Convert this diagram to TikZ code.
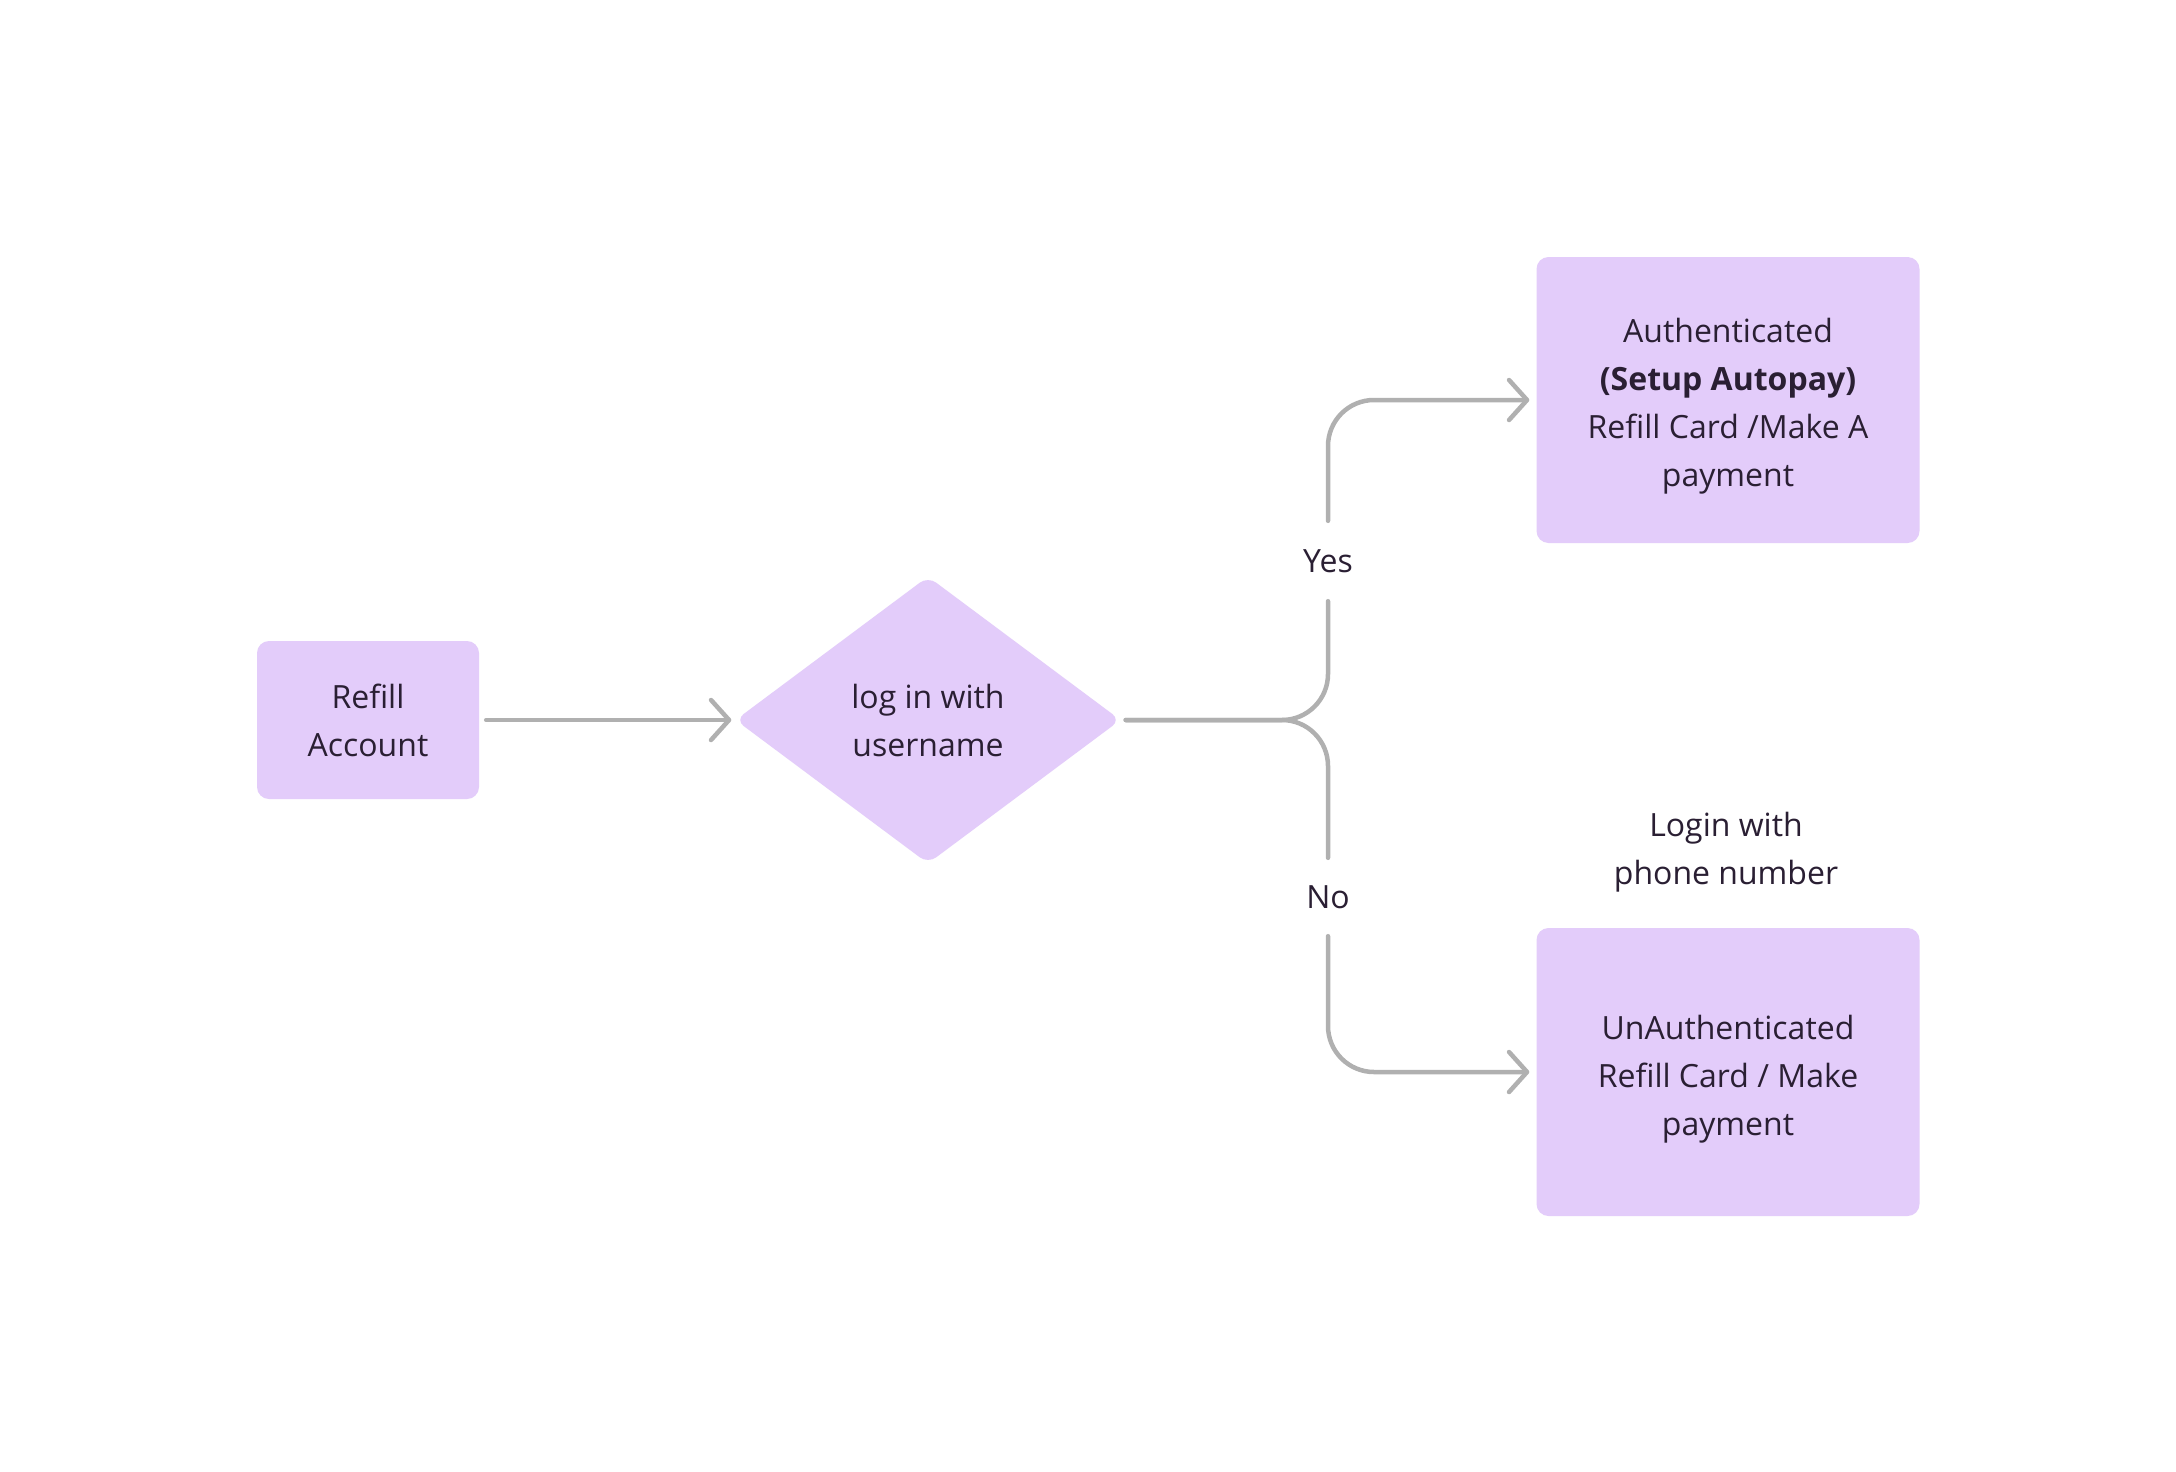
\documentclass[tikz,border=0pt]{standalone}
\usepackage{fontspec}
\setmainfont{Open Sans}
\usetikzlibrary{shapes.geometric,arrows.meta}
\definecolor{boxfill}{HTML}{E3CCFA}
\definecolor{linegray}{HTML}{B0B0B0}
\definecolor{txt}{HTML}{2A1F33}
\begin{document}
\begin{tikzpicture}[x=1pt,y=-1pt,
  every node/.style={font=\fontsize{32}{48}\selectfont, text=txt, align=center},
  boxnode/.style={rectangle, fill=boxfill, rounded corners=12pt, inner sep=0pt},
  decision/.style={diamond, fill=boxfill, rounded corners=10pt, inner sep=0pt, minimum width=385pt, minimum height=287pt},
  lbl/.style={inner sep=0pt, minimum width=60pt},
  conn/.style={draw=linegray, line width=4.5pt, line cap=round, line join=round,
    -{Straight Barb[length=18pt,width=40pt,round]}},
  branch/.style={draw=linegray, line width=4.5pt, line cap=round, line join=round, rounded corners=46pt}
]
\useasboundingbox (0,0) rectangle (2176,1472);
\fill[white] (0,0) rectangle (2176,1472);

\node[boxnode, minimum width=222pt, minimum height=158pt] (refill) at (368,720) {Refill\\Account};
\node[decision] (dia) at (928,720) {log in with\\ username};
\node[boxnode, minimum width=383pt, minimum height=286pt] (top) at (1728,400) {};
\node[yshift=-6pt] (toptext) at (top.center)
  {Authenticated\\ \textbf{(Setup Autopay)}\\ Refill Card /Make A\\ payment};
\node[boxnode, minimum width=383pt, minimum height=288pt] (bot) at (1728,1072) {};
\node[yshift=-7pt] (bottext) at (bot.center)
  {UnAuthenticated\\ Refill Card / Make\\ payment};
\node[lbl, minimum height=80pt] (yes) at (1328,561) {Yes};
\node[lbl, minimum height=78pt] (no) at (1328,897) {No};
\node[inner sep=0pt] (login) at (1726,852) {Login with\\ phone number};

\draw[conn, shorten <=7pt, shorten >=4pt] (refill.east) -- (dia.west);
\draw[branch, shorten <=5pt] (dia.east) -| (yes.south);
\draw[branch, shorten <=5pt] (dia.east) -| (no.north);
\draw[conn, rounded corners=46pt, shorten >=7pt] (yes.north) |- (top.west);
\draw[conn, rounded corners=46pt, shorten >=7pt] (no.south) |- (bot.west);
\end{tikzpicture}
\end{document}
